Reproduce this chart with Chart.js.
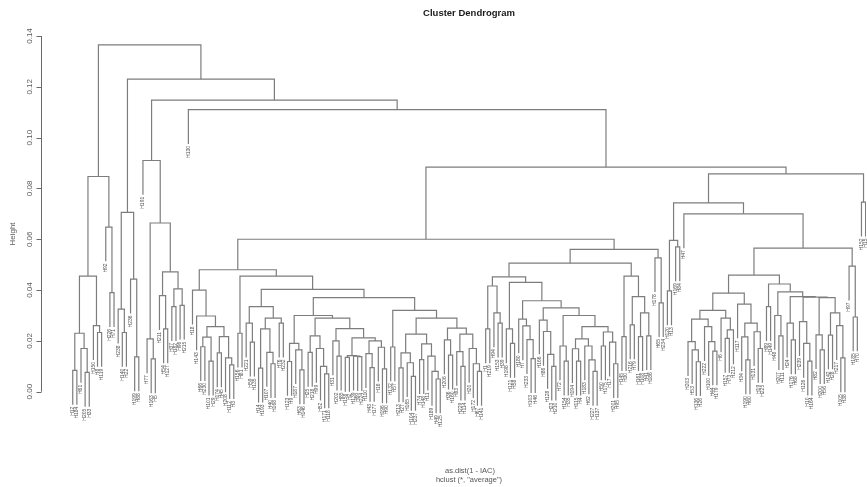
<!DOCTYPE html>
<html>
<head>
<meta charset="utf-8">
<script src="https://cdn.jsdelivr.net/npm/chart.js@4.4.1/dist/chart.umd.min.js"></script>
<style>
  html, body { margin: 0; padding: 0; background: #ffffff; }
  canvas { display: block; }
</style>
</head>
<body>
<canvas id="dendro" width="867" height="487"></canvas>
<script>
// Hierarchical clustering (average linkage) of samples.
// Every merge is written as [height, left, right]; 0 marks a single sample.
// Sample names are taken in left-to-right order from leafLabels.

const leafLabels = [
  "H12","H184","H61","H205","H33","H150","H8","H119","H92","H226","H71",
  "H238","H140","H22","H236","H199","H88","H191","H77",
  "H163","H5","H211","H54","H127","H37","H182","H96","H215","H130",
  "H18","H143","H66","H230","H101","H29","H174","H45","H208","H112",
  "H3","H156","H81","H221","H59","H135","H14","H193","H107","H40",
  "H168","H76","H232","H123","H9","H187","H63","H146","H25","H218",
  "H99","H52","H171","H118","H31","H202","H85","H158","H2","H139",
  "H69","H224","H110","H43","H177","H16","H196","H90","H132","H57",
  "H213","H27","H165","H104","H237","H74","H148","H11","H189","H49",
  "H125","H206","H36","H160","H83","H229","H114","H20","H172","H67",
  "H141",
  "H1","H219","H94","H153","H39","H198","H121","H58","H180","H7",
  "H233","H103","H46","H166","H86","H128","H23","H210","H72","H154",
  "H35","H194","H115","H4","H183","H62","H227","H137","H50","H175",
  "H17","H201","H95","H145","H30","H216","H79","H161","H108","H41",
  "H186","H178",
  "H65","H234","H120","H13","H169","H84","H47",
  "H203","H53","H136","H26","H222","H100","H44","H179","H6","H157",
  "H73","H212","H117","H34","H190","H60","H131","H19","H225","H89",
  "H149","H48","H207","H111","H24","H176","H68","H239","H126","H10",
  "H164","H82","H200","H56","H142","H28","H217","H105","H38",
  "H97","H185","H70","H152","H15"
];

// Far-left group
const groupOne = [0.0847,
  [0.0455,
    [0.023, [0.0084, 0, 0], [0.017, 0, [0.0076, 0, 0]]],
    [0.026, 0, [0.0233, 0, 0]]],
  [0.0648, 0, [0.039, 0, 0]]];

const groupTwo = [0.0706,
  [0.0325, 0, [0.0233, 0, 0]],
  [0.0443, 0, [0.0137, 0, 0]]];

const groupThree = [0.0664,
  [0.0208, 0, [0.0129, 0, 0]],
  [0.0472,
    [0.0378, 0, [0.0247, 0, 0]],
    [0.0405, [0.0335, 0, 0], [0.034, 0, 0]]]];

// Large central group, left half
const centreA = [0.040, 0, [0.0298, 0, [0.0256,
  [0.0215, [0.0177, 0, 0], [0.012, 0, 0]],
  [0.0217, [0.0153, 0, 0], [0.0133, 0, [0.0106, 0, 0]]]]]];

const centreB = [0.0335,
  [0.027, 0, [0.0195, 0, 0]],
  [0.029, [0.0247, [0.0093, 0, 0], [0.0155, 0, [0.011, 0, 0]]], [0.027, 0, 0]]];

const centreC = [0.030,
  [0.019, [0.0119, 0, 0], [0.0165, 0, [0.0086, 0, 0]]],
  [0.029,
    [0.022, [0.0155, 0, 0], [0.017, 0, [0.010, 0, [0.007, 0, 0]]]],
    [0.0248,
      [0.020, 0, [0.014, 0, 0]],
      [0.0212,
        [0.0142, [0.0135, 0, 0], [0.014, 0, [0.0138, 0, 0]]],
        [0.020, [0.015, 0, [0.0095, 0, 0]], [0.0175, 0, [0.009, 0, 0]]]]]]];

const centreD = [0.032,
  [0.0176, 0, 0],
  [0.029,
    [0.0227,
      [0.0153, [0.0094, 0, 0], [0.0114, 0, [0.006, 0, 0]]],
      [0.0188, [0.0126, 0, 0], [0.014, 0, [0.008, 0, [0.005, 0, 0]]]]],
    [0.025,
      [0.0204, 0, [0.0144, 0, 0]],
      [0.0227, [0.0158, 0, [0.010, 0, 0]], [0.017, 0, [0.011, 0, [0.008, 0, 0]]]]]]];

const centreLeft = [0.048, centreA,
  [0.0455, [0.023, 0, 0], [0.0403, centreB, [0.037, centreC, centreD]]]];

// Large central group, right half
const centreE = [0.0452,
  [0.0416, [0.0247, 0, 0], [0.031, 0, [0.027, 0, 0]]],
  [0.043,
    [0.0247, 0, [0.019, 0, 0]],
    [0.0358,
      [0.0286, 0, [0.0259, 0, [0.0205, 0, [0.013, 0, 0]]]],
      [0.033,
        [0.0282, 0, [0.0237, 0, [0.0147, 0, [0.010, 0, 0]]]],
        [0.030,
          [0.018, 0, [0.012, 0, 0]],
          [0.0256,
            [0.0208, [0.0169, 0, [0.012, 0, 0]], [0.018, 0, [0.0125, 0, [0.008, 0, 0]]]],
            [0.0235, [0.018, 0, 0], [0.0195, 0, [0.011, 0, 0]]]]]]]]];

const centreF = [0.0455, [0.0217, 0, 0],
  [0.0374, [0.0263, 0, 0], [0.031, [0.0217, 0, 0], [0.022, 0, 0]]]];

const centreRight = [0.056, [0.0506, centreE, centreF], [0.0527, 0, [0.035, 0, 0]]];

// Right-hand group
const rightA = [0.0388,
  [0.032,
    [0.0286,
      [0.0197, 0, [0.0165, 0, [0.0118, 0, 0]]],
      [0.0256, 0, [0.0197, 0, [0.016, 0, 0]]]],
    [0.029, 0, [0.0243, [0.021, 0, 0], 0]]],
  [0.0345, 0, [0.027, [0.0216, 0, [0.0125, 0, 0]], [0.0236, 0, [0.017, 0, 0]]]]];

const rightB = [0.0424,
  [0.0335, 0, 0],
  [0.0393,
    [0.030, 0, [0.022, 0, 0]],
    [0.0374,
      [0.027, 0, [0.0204, 0, 0]],
      [0.0372,
        [0.0276, 0, [0.019, 0, [0.012, 0, 0]]],
        [0.037, [0.0224, 0, [0.0165, 0, 0]],
          [0.031, [0.0223, 0, 0], [0.026, 0, [0.0133, 0, 0]]]]]]]];

const rightGroup = [0.0743,
  [0.0596, [0.0397, 0, 0], [0.057, 0, 0]],
  [0.070, 0, [0.0565, [0.0459, rightA, rightB], [0.0494, 0, [0.0294, 0, 0]]]]];

// Upper joins
const clusterTree = [0.1365, groupOne,
  [0.123, groupTwo,
    [0.1148,
      [0.091, 0, groupThree],
      [0.111, 0,
        [0.0884,
          [0.060, centreLeft, centreRight],
          [0.0857, rightGroup, [0.0746, 0, 0]]]]]]];

const heightTicks = [0, 0.02, 0.04, 0.06, 0.08, 0.10, 0.12, 0.14];
const chartTitle = "Cluster Dendrogram";
const xTitleLines = ["as.dist(1 - IAC)", "hclust (*, \"average\")"];
const yTitle = "Height";

// ---- layout of the tree: samples at 0..n-1, joins at the midpoint of their children
const HANG = 0.0135;   // how far a sample's stem drops below the join it belongs to
const LINE = "#7d7d7d";

function layoutTree(tree) {
  const merges = [];
  const leaves = [];
  let next = 0;
  function walk(node) {
    if (!Array.isArray(node)) {
      const i = next++;
      const leaf = { leaf: true, x: i, label: leafLabels[i] || "" };
      leaves.push(leaf);
      return leaf;
    }
    const a = walk(node[1]);
    const b = walk(node[2]);
    const m = { leaf: false, x: (a.x + b.x) / 2, h: node[0], a, b };
    merges.push(m);
    return m;
  }
  walk(tree);
  merges.forEach(m => {
    [m.a, m.b].forEach(c => { if (c.leaf) c.bottom = m.h - HANG; });
  });
  return { merges, leaves };
}

const { merges, leaves } = layoutTree(clusterTree);
const lastLeaf = leaves.length - 1;

const datasets = merges.map(m => ({
  data: [
    { x: m.a.x, y: m.a.leaf ? m.a.bottom : m.a.h },
    { x: m.a.x, y: m.h },
    { x: m.b.x, y: m.h },
    { x: m.b.x, y: m.b.leaf ? m.b.bottom : m.b.h }
  ],
  showLine: true,
  borderColor: LINE,
  borderWidth: 1.2,
  pointRadius: 0,
  pointHoverRadius: 0,
  fill: false,
  tension: 0
}));

// Axis, titles and sample names, placed through the chart's scales
const annotate = {
  id: "annotate",
  afterDraw(chart) {
    const ctx = chart.ctx;
    const xs = chart.scales.x, ys = chart.scales.y;
    ctx.save();

    // sample names hanging under each stem
    ctx.fillStyle = "#505050";
    ctx.font = "5px 'Liberation Sans', Arial, sans-serif";
    ctx.textAlign = "right";
    ctx.textBaseline = "middle";
    leaves.forEach(l => {
      const px = xs.getPixelForValue(l.x);
      const py = ys.getPixelForValue(l.bottom) + 2;
      ctx.save();
      ctx.translate(px, py);
      ctx.rotate(-Math.PI / 2);
      ctx.fillText(l.label, 0, 0);
      ctx.restore();
    });

    // height axis
    const axisX = 41;
    const top = ys.getPixelForValue(heightTicks[heightTicks.length - 1]);
    const bot = ys.getPixelForValue(heightTicks[0]);
    ctx.strokeStyle = "#6a6a6a";
    ctx.lineWidth = 1;
    ctx.beginPath();
    ctx.moveTo(axisX + 0.5, top);
    ctx.lineTo(axisX + 0.5, bot);
    heightTicks.forEach(t => {
      const py = Math.round(ys.getPixelForValue(t)) + 0.5;
      ctx.moveTo(axisX + 0.5, py);
      ctx.lineTo(axisX - 4.5, py);
    });
    ctx.stroke();

    ctx.fillStyle = "#5a5a5a";
    ctx.font = "8px 'Liberation Sans', Arial, sans-serif";
    ctx.textAlign = "center";
    ctx.textBaseline = "middle";
    heightTicks.forEach(t => {
      const py = ys.getPixelForValue(t);
      ctx.save();
      ctx.translate(29.5, py);
      ctx.rotate(-Math.PI / 2);
      ctx.fillText(t.toFixed(2), 0, 0);
      ctx.restore();
    });
    ctx.save();
    ctx.translate(12.5, 234);
    ctx.rotate(-Math.PI / 2);
    ctx.fillText(yTitle, 0, 0);
    ctx.restore();

    // titles
    ctx.fillStyle = "#1a1a1a";
    ctx.font = "bold 9.5px 'Liberation Sans', Arial, sans-serif";
    ctx.fillText(chartTitle, 469, 13);
    ctx.fillStyle = "#555555";
    ctx.font = "7.5px 'Liberation Sans', Arial, sans-serif";
    ctx.fillText(xTitleLines[0], 470, 471);
    ctx.fillText(xTitleLines[1], 469, 480);

    ctx.restore();
  }
};

new Chart(document.getElementById("dendro"), {
  type: "scatter",
  data: { datasets },
  plugins: [annotate],
  options: {
    responsive: false,
    animation: false,
    devicePixelRatio: 1,
    layout: { padding: { left: 62, right: 1, top: 36, bottom: 64.8 } },
    plugins: { legend: { display: false }, tooltip: { enabled: false }, title: { display: false } },
    events: [],
    scales: {
      x: { type: "linear", display: false, min: -2.6, max: lastLeaf + 0.1 },
      y: { type: "linear", display: false, min: -0.012, max: 0.14 }
    }
  }
});
</script>
</body>
</html>
